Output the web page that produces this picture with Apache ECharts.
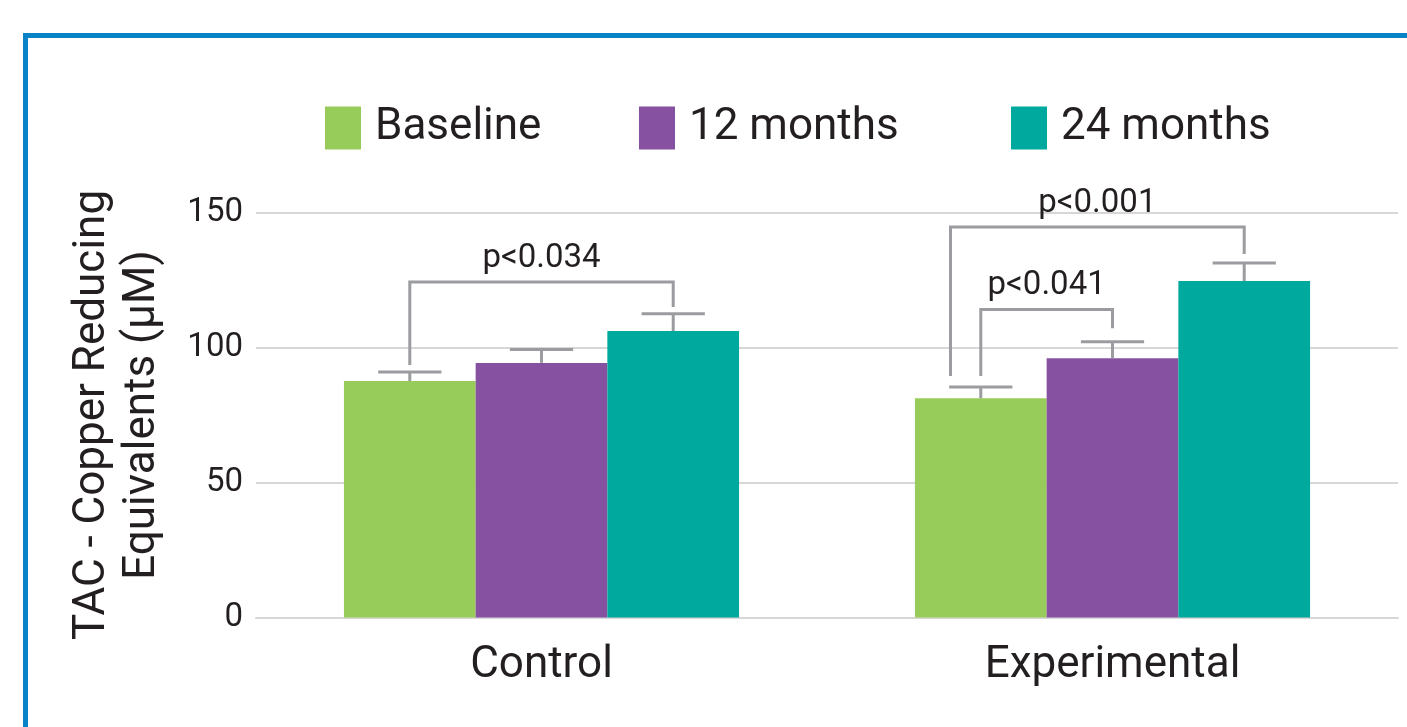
<!DOCTYPE html>
<html>
<head>
<meta charset="utf-8">
<script src="https://cdn.jsdelivr.net/npm/echarts@6/dist/echarts.min.js"></script>
<style>
  html, body { margin: 0; padding: 0; background: #ffffff; }
  #chart { width: 1407px; height: 727px; }
</style>
</head>
<body>
<div id="chart"></div>
<script>
// ---------- data ----------
const categories = ['Control', 'Experimental'];
const seriesNames = ['Baseline', '12 months', '24 months'];
const baselineValues = [87.6, 81.2];
const month12Values = [94.3, 96.0];
const month24Values = [106.1, 124.6];
const baselineErrors = [3.3, 4.2];
const month12Errors = [5.0, 6.1];
const month24Errors = [6.4, 6.7];
const yMin = 0, yMax = 150, yInterval = 50;
// significance brackets: category, first bar, last bar, bracket top, left leg end, right leg end
const bracketCategory = [0, 1, 1];
const bracketFrom = [0, 0, 0];
const bracketTo = [2, 1, 2];
const bracketTop = [124.3, 114.1, 144.6];
const bracketLeftEnd = [93.5, 89.4, 89.4];
const bracketRightEnd = [115.0, 107.1, 134.6];
const bracketLabels = ['p<0.034', 'p<0.041', 'p<0.001'];

// ---------- styles ----------
const COLORS = ['#97cb5a', '#8651a1', '#00a99d'];
const GRAY = '#9b9c9f';
const TEXT = '#231f20';
const FONT = 'Roboto, "Open Sans", sans-serif';
const GAP = 0.308;
const CAP_FRAC = 0.48;

const valueSets = [baselineValues, month12Values, month24Values];
const errorSets = [baselineErrors, month12Errors, month24Errors];

const errData = [];
for (let s = 0; s < 3; s++) {
  for (let c = 0; c < categories.length; c++) {
    errData.push([c, s, valueSets[s][c], errorSets[s][c]]);
  }
}
const bracketData = bracketLabels.map((_, i) => [bracketCategory[i], bracketFrom[i], bracketTo[i], bracketTop[i], bracketLeftEnd[i], bracketRightEnd[i]]);

function barGeom(api, cat, s) {
  const band = api.size([1, 0])[0];
  const bw = band * (1 - GAP) / 3;
  const cx = api.coord([cat, 0])[0] + (s - 1) * bw;
  return { cx: cx, bw: bw };
}

function renderErr(params, api) {
  const cat = api.value(0), s = api.value(1), mean = api.value(2), err = api.value(3);
  const g = barGeom(api, cat, s);
  const y0 = api.coord([cat, mean])[1];
  const y1 = api.coord([cat, mean + err])[1];
  const hw = g.bw * CAP_FRAC / 2;
  return {
    type: 'group',
    children: [
      { type: 'line', shape: { x1: g.cx, y1: y0, x2: g.cx, y2: y1 }, style: { stroke: GRAY, lineWidth: 3 } },
      { type: 'line', shape: { x1: g.cx - hw, y1: y1, x2: g.cx + hw, y2: y1 }, style: { stroke: GRAY, lineWidth: 3 } }
    ]
  };
}

function renderBracket(params, api) {
  const i = params.dataIndex;
  const cat = api.value(0), from = api.value(1), to = api.value(2);
  const top = api.value(3), le = api.value(4), re = api.value(5);
  const gl = barGeom(api, cat, from);
  const gr = barGeom(api, cat, to);
  // nested outer bracket starting on the same bar: shift its left leg outward
  let shift = 0;
  for (let j = 0; j < bracketData.length; j++) {
    if (j !== i && bracketData[j][0] === cat && bracketData[j][1] === from && bracketData[j][3] < top) {
      shift = -gl.bw * 0.23;
    }
  }
  const xl = gl.cx + shift;
  const xr = gr.cx;
  const yt = api.coord([cat, top])[1];
  const yl = api.coord([cat, le])[1];
  const yr = api.coord([cat, re])[1];
  return {
    type: 'group',
    children: [
      { type: 'polyline', shape: { points: [[xl, yl], [xl, yt], [xr, yt], [xr, yr]] }, style: { stroke: GRAY, lineWidth: 3, fill: null } },
      { type: 'text', x: (xl + xr) / 2, y: yt - 7, style: { text: bracketLabels[i], fill: TEXT, fontSize: 33, fontFamily: FONT, align: 'center', verticalAlign: 'bottom' } }
    ]
  };
}

const legendBase = {
  top: 106, padding: 0, itemWidth: 36, itemHeight: 43, icon: 'rect', selectedMode: false,
  textStyle: { fontSize: 44, color: TEXT, fontFamily: FONT, padding: [4, 0, 0, 9] }
};

const chart = echarts.init(document.getElementById('chart'));
chart.setOption({
  backgroundColor: '#ffffff',
  animation: false,
  textStyle: { fontFamily: FONT },
  graphic: [{
    type: 'rect', z: 100,
    shape: { x: 25.5, y: 35.5, width: 1420, height: 720 },
    style: { fill: null, stroke: '#0883c7', lineWidth: 5 }
  }],
  legend: [
    Object.assign({}, legendBase, { data: [seriesNames[0]], left: 325 }),
    Object.assign({}, legendBase, { data: [seriesNames[1]], left: 639 }),
    Object.assign({}, legendBase, { data: [seriesNames[2]], left: 1011 })
  ],
  grid: { left: 256, right: 9, top: 212.5, bottom: 109.5, containLabel: false },
  xAxis: {
    type: 'category',
    data: categories,
    axisTick: { show: false },
    axisLine: { show: true, lineStyle: { color: '#d7d7d7', width: 2 } },
    axisLabel: { fontSize: 44, color: TEXT, fontFamily: FONT, margin: 26 }
  },
  yAxis: {
    type: 'value',
    min: yMin, max: yMax, interval: yInterval,
    name: 'TAC - Copper Reducing\nEquivalents (µM)',
    nameLocation: 'middle',
    nameRotate: 90,
    nameGap: 88,
    nameTextStyle: { fontSize: 44, color: TEXT, fontFamily: FONT, lineHeight: 50, align: 'center' },
    axisLine: { show: false },
    axisTick: { show: false },
    axisLabel: { fontSize: 33, color: TEXT, fontFamily: FONT, margin: 13 },
    splitLine: { lineStyle: { color: '#d7d7d7', width: 2 } }
  },
  series: [
    { name: seriesNames[0], type: 'bar', data: baselineValues, itemStyle: { color: COLORS[0] }, barGap: '0%', barCategoryGap: (GAP * 100) + '%' },
    { name: seriesNames[1], type: 'bar', data: month12Values, itemStyle: { color: COLORS[1] }, barGap: '0%', barCategoryGap: (GAP * 100) + '%' },
    { name: seriesNames[2], type: 'bar', data: month24Values, itemStyle: { color: COLORS[2] }, barGap: '0%', barCategoryGap: (GAP * 100) + '%' },
    { type: 'custom', renderItem: renderErr, data: errData, z: 5, clip: false, silent: true },
    { type: 'custom', renderItem: renderBracket, data: bracketData, z: 6, clip: false, silent: true }
  ]
});
</script>
</body>
</html>
